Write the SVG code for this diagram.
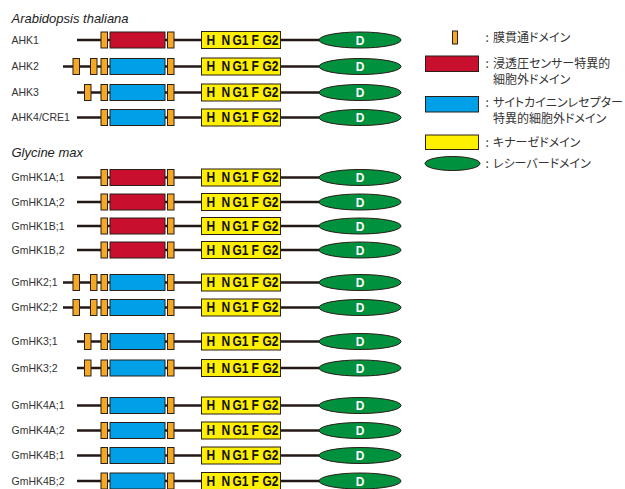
<svg xmlns="http://www.w3.org/2000/svg" xmlns:xlink="http://www.w3.org/1999/xlink" width="625" height="489" viewBox="0 0 625 489">
<style>
.bb{stroke:#2b1f18;stroke-width:1}
.tm{fill:#F5A823}
.red{fill:#C8102E}
.blue{fill:#00A0E9}
.yel{fill:#FFF000}
.grn{fill:#00913F}
.ln{stroke:#231815;stroke-width:2.6;fill:none}
.k{font-family:"Liberation Sans",Arial,sans-serif;font-weight:bold;font-size:12px;fill:#111}
.d{font-family:"Liberation Sans",Arial,sans-serif;font-weight:bold;font-size:12px;fill:#fff;text-anchor:middle}
.lab{font-family:"Liberation Sans",Arial,sans-serif;font-size:10.5px;fill:#333}
.ttl{font-family:"Liberation Sans",Arial,sans-serif;font-style:italic;font-size:13px;fill:#222}
.jp{font-family:"Noto Sans CJK JP",sans-serif;font-size:12px;fill:#333;font-feature-settings:"palt" 1}
</style>
<defs>
<g id="tail">
<rect class="yel bb" x="201.5" y="-8.5" width="79" height="17"/>
<g transform="translate(0,4.6) scale(1,1.15)">
<text class="k" x="206.5" y="0">H</text>
<text class="k" x="221.5" y="0">N</text>
<text class="k" x="232.5" y="0">G1</text>
<text class="k" x="251.5" y="0">F</text>
<text class="k" x="262.5" y="0">G2</text>
</g>
<ellipse class="grn bb" cx="360" cy="0" rx="41" ry="8"/>
<text class="d" x="360" y="4.5">D</text>
</g>
<g id="rowA">
<line class="ln" x1="77" y1="0" x2="330" y2="0"/>
<rect class="tm bb" x="101" y="-8" width="6.5" height="16"/>
<rect class="red bb" x="110" y="-8" width="55" height="16"/>
<rect class="tm bb" x="167.5" y="-8" width="6.5" height="16"/>
<use xlink:href="#tail"/>
</g>
<g id="rowB">
<line class="ln" x1="63" y1="0" x2="330" y2="0"/>
<rect class="tm bb" x="73" y="-8" width="6.5" height="16"/>
<rect class="tm bb" x="90.5" y="-8" width="6.5" height="16"/>
<rect class="tm bb" x="101" y="-8" width="6.5" height="16"/>
<rect class="blue bb" x="110" y="-8" width="55" height="16"/>
<rect class="tm bb" x="167.5" y="-8" width="6.5" height="16"/>
<use xlink:href="#tail"/>
</g>
<g id="rowC">
<line class="ln" x1="77" y1="0" x2="330" y2="0"/>
<rect class="tm bb" x="84.5" y="-8" width="6.5" height="16"/>
<rect class="tm bb" x="101" y="-8" width="6.5" height="16"/>
<rect class="blue bb" x="110" y="-8" width="55" height="16"/>
<rect class="tm bb" x="167.5" y="-8" width="6.5" height="16"/>
<use xlink:href="#tail"/>
</g>
<g id="rowD">
<line class="ln" x1="77" y1="0" x2="330" y2="0"/>
<rect class="tm bb" x="101" y="-8" width="6.5" height="16"/>
<rect class="blue bb" x="110" y="-8" width="55" height="16"/>
<rect class="tm bb" x="167.5" y="-8" width="6.5" height="16"/>
<use xlink:href="#tail"/>
</g>
</defs>
<rect width="625" height="489" fill="#fff"/>
<text class="ttl" x="11.5" y="23">Arabidopsis thaliana</text>
<text class="ttl" x="11.5" y="157">Glycine max</text>
<g id="connectors"></g>
<g id="AHK1" transform="translate(0,40)"><text class="lab" x="11.5" y="3.8">AHK1</text><use xlink:href="#rowA"/></g>
<g id="AHK2" transform="translate(0,66.5)"><text class="lab" x="11.5" y="3.8">AHK2</text><use xlink:href="#rowB"/></g>
<g id="AHK3" transform="translate(0,92.5)"><text class="lab" x="11.5" y="3.8">AHK3</text><use xlink:href="#rowC"/></g>
<g id="AHK4" transform="translate(0,117.5)"><text class="lab" x="11.5" y="3.8">AHK4/CRE1</text><use xlink:href="#rowD"/></g>
<g id="GmHK1A1" transform="translate(0,177.5)"><text class="lab" x="11.5" y="3.8">GmHK1A;1</text><use xlink:href="#rowA"/></g>
<g id="GmHK1A2" transform="translate(0,202)"><text class="lab" x="11.5" y="3.8">GmHK1A;2</text><use xlink:href="#rowA"/></g>
<g id="GmHK1B1" transform="translate(0,226)"><text class="lab" x="11.5" y="3.8">GmHK1B;1</text><use xlink:href="#rowA"/></g>
<g id="GmHK1B2" transform="translate(0,250)"><text class="lab" x="11.5" y="3.8">GmHK1B,2</text><use xlink:href="#rowA"/></g>
<g id="GmHK21" transform="translate(0,282.5)"><text class="lab" x="11.5" y="3.8">GmHK2;1</text><use xlink:href="#rowB"/></g>
<g id="GmHK22" transform="translate(0,307.5)"><text class="lab" x="11.5" y="3.8">GmHK2;2</text><use xlink:href="#rowB"/></g>
<g id="GmHK31" transform="translate(0,341.5)"><text class="lab" x="11.5" y="3.8">GmHK3;1</text><use xlink:href="#rowC"/></g>
<g id="GmHK32" transform="translate(0,368)"><text class="lab" x="11.5" y="3.8">GmHK3;2</text><use xlink:href="#rowC"/></g>
<g id="GmHK4A1" transform="translate(0,405.5)"><text class="lab" x="11.5" y="3.8">GmHK4A;1</text><use xlink:href="#rowD"/></g>
<g id="GmHK4A2" transform="translate(0,430.5)"><text class="lab" x="11.5" y="3.8">GmHK4A;2</text><use xlink:href="#rowD"/></g>
<g id="GmHK4B1" transform="translate(0,455.5)"><text class="lab" x="11.5" y="3.8">GmHK4B;1</text><use xlink:href="#rowD"/></g>
<g id="GmHK4B2" transform="translate(0,481)"><text class="lab" x="11.5" y="3.8">GmHK4B;2</text><use xlink:href="#rowD"/></g>
<g id="legend">
<rect class="tm bb" x="452.5" y="31" width="5" height="13"/>
<text class="jp" x="485.5" y="42">:</text>
<text class="jp" x="493" y="42">膜貫通ドメイン</text>
<rect class="red bb" x="425.5" y="56" width="53" height="15.5"/>
<text class="jp" x="485.5" y="67.5">:</text>
<text class="jp" x="493" y="67.5">浸透圧センサー特異的</text>
<text class="jp" x="493" y="83.5">細胞外ドメイン</text>
<rect class="blue bb" x="425.5" y="96.5" width="53" height="15.5"/>
<text class="jp" x="485.5" y="107">:</text>
<text class="jp" x="493" y="107" textLength="130" lengthAdjust="spacingAndGlyphs">サイトカイニンレセプター</text>
<text class="jp" x="493" y="123">特異的細胞外ドメイン</text>
<rect class="yel bb" x="425.5" y="135" width="53" height="14.5"/>
<text class="jp" x="485.5" y="146.5">:</text>
<text class="jp" x="493" y="146.5">キナーゼドメイン</text>
<ellipse class="grn bb" cx="452.5" cy="163.5" rx="27.5" ry="7"/>
<text class="jp" x="485.5" y="168">:</text>
<text class="jp" x="493" y="168">レシーバードメイン</text>
</g>
</svg>
